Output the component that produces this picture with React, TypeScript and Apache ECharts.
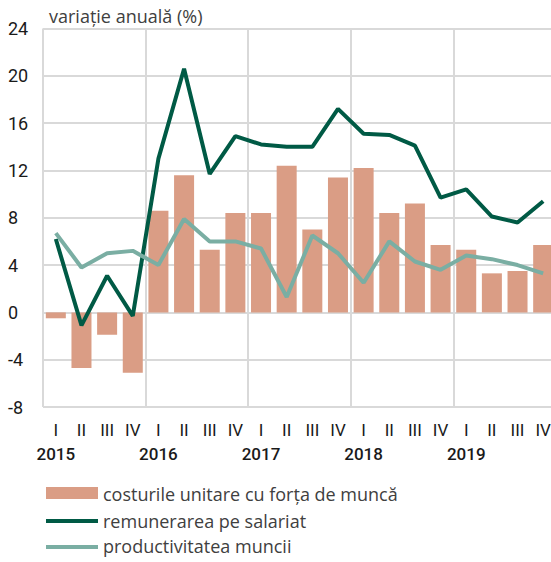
import React, { useEffect, useRef } from "react";
import * as echarts from "echarts";

const years = ["2015", "2016", "2017", "2018", "2019"];
const quarters = ["I", "II", "III", "IV"];
const categories: string[] = years.flatMap((y) => quarters.map((q) => `${q}|${y}`));

const costuriUnitare = [-0.5, -4.7, -1.9, -5.1, 8.6, 11.6, 5.3, 8.4, 8.4, 12.4, 7.0, 11.4, 12.2, 8.4, 9.2, 5.7, 5.3, 3.3, 3.5, 5.7];
const remunerarea = [6.2, -1.1, 3.1, -0.3, 13.0, 20.6, 11.7, 14.9, 14.2, 14.0, 14.0, 17.2, 15.1, 15.0, 14.1, 9.7, 10.4, 8.1, 7.6, 9.4];
const productivitatea = [6.7, 3.8, 5.0, 5.2, 4.0, 7.9, 6.0, 6.0, 5.4, 1.3, 6.5, 5.0, 2.5, 6.0, 4.3, 3.6, 4.8, 4.5, 4.0, 3.3];

const seriesNames = ["costurile unitare cu forța de muncă", "remunerarea pe salariat", "productivitatea muncii"];
const seriesColors = ["#da9d85", "#005a45", "#7aaea3"];
const yTicks = { min: -8, max: 24, interval: 4 };

const FONT = "Roboto, 'Liberation Sans', sans-serif";
const FONT2 = "'Open Sans', 'Noto Sans', sans-serif";

export default function App() {
  const ref = useRef<HTMLDivElement>(null);
  useEffect(() => {
    if (!ref.current) return;
    const chart = echarts.init(ref.current, undefined, { renderer: "svg" });
    const legendText = (i: number, y: number) => ({
      type: "text",
      x: 103,
      y,
      style: {
        text: seriesNames[i],
        fontFamily: FONT2,
        fontSize: 18,
        fill: "#404040",
        verticalAlign: "middle",
        align: "left",
      },
    });
    chart.setOption({
      animation: false,
      backgroundColor: "#ffffff",
      title: {
        text: "variație anuală (%)",
        left: 44,
        top: 2,
        textStyle: { fontFamily: FONT2, fontSize: 18, fontWeight: "normal", color: "#404040" },
      },
      grid: { left: 43, right: 0, top: 28.5, bottom: 155 },
      graphic: [
        { type: "rect", shape: { x: 46, y: 487, width: 52, height: 12 }, style: { fill: seriesColors[0] } },
        legendText(0, 494),
        { type: "line", shape: { x1: 46, y1: 521, x2: 98, y2: 521 }, style: { stroke: seriesColors[1], lineWidth: 4 } },
        legendText(1, 521),
        { type: "line", shape: { x1: 46, y1: 547, x2: 98, y2: 547 }, style: { stroke: seriesColors[2], lineWidth: 4 } },
        legendText(2, 546),
      ],
      xAxis: {
        type: "category",
        data: categories,
        boundaryGap: true,
        axisLine: { show: false },
        axisTick: { show: false },
        splitLine: {
          show: true,
          interval: (i: number) => i % 4 === 0,
          lineStyle: { color: "#d9d9d9", width: 2 },
        },
        axisLabel: {
          interval: 0,
          margin: 11,
          formatter: (v: string) => {
            const [q, y] = v.split("|");
            return q === "I" ? `{q|${q}}\n{y|${y}}` : `{q|${q}}`;
          },
          rich: {
            q: { fontFamily: FONT, fontSize: 17, color: "#1a1a1a", lineHeight: 24 },
            y: { fontFamily: FONT, fontSize: 17, fontWeight: 500, color: "#1a1a1a", lineHeight: 24 },
          },
        },
      },
      yAxis: {
        type: "value",
        min: yTicks.min,
        max: yTicks.max,
        interval: yTicks.interval,
        axisLine: { show: false },
        axisTick: { show: false },
        splitLine: { show: true, lineStyle: { color: "#d9d9d9", width: 2 } },
        axisLabel: {
          align: "left",
          margin: 35,
          fontFamily: FONT,
          fontSize: 18,
          color: "#1a1a1a",
        },
      },
      series: [
        {
          name: seriesNames[0],
          type: "bar",
          data: costuriUnitare,
          barCategoryGap: "22%",
          itemStyle: { color: seriesColors[0] },
        },
        {
          name: seriesNames[1],
          type: "line",
          data: remunerarea,
          symbol: "none",
          lineStyle: { color: seriesColors[1], width: 4 },
          itemStyle: { color: seriesColors[1] },
        },
        {
          name: seriesNames[2],
          type: "line",
          data: productivitatea,
          symbol: "none",
          lineStyle: { color: seriesColors[2], width: 4 },
          itemStyle: { color: seriesColors[2] },
        },
      ],
    });
    return () => chart.dispose();
  }, []);
  return (
    <div style={{ position: "fixed", left: 0, top: 0, width: 551, height: 562, overflow: "hidden", background: "#fff" }}>
      <div ref={ref} style={{ width: 556, height: 562 }} />
    </div>
  );
}
